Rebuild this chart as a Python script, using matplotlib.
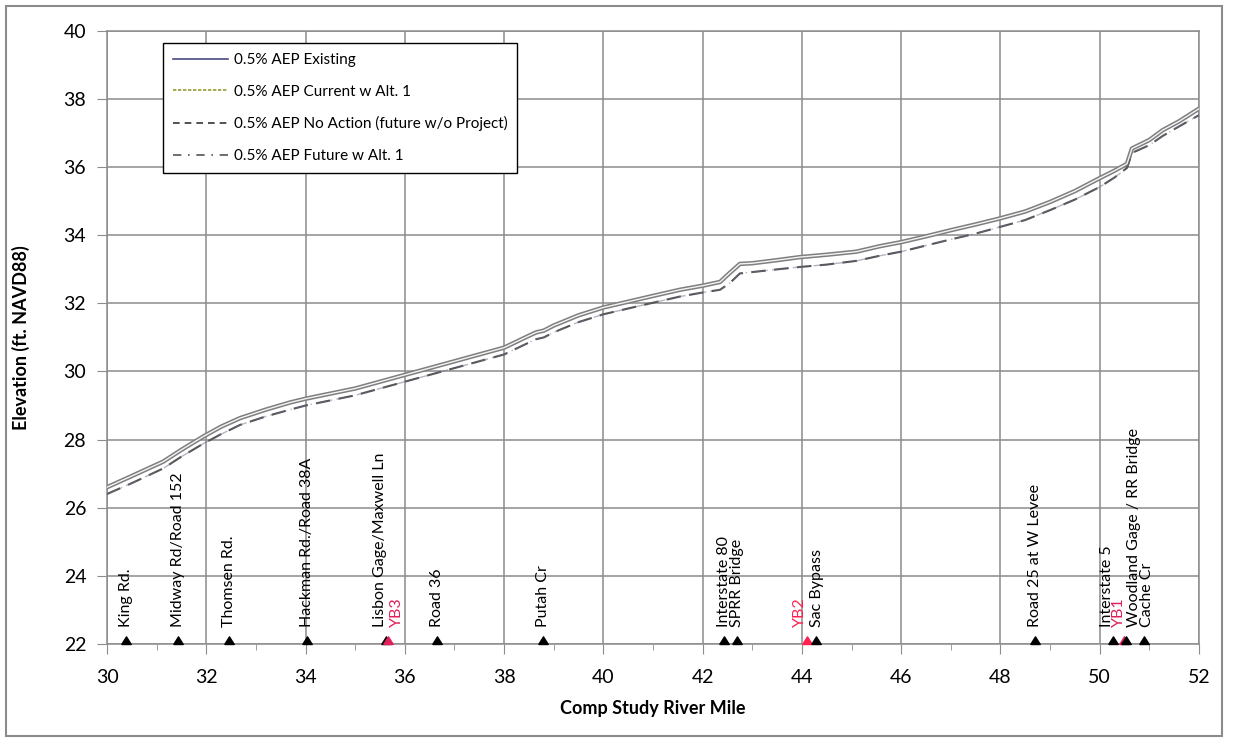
import matplotlib
matplotlib.use("Agg")
import matplotlib.pyplot as plt
from matplotlib.lines import Line2D
from matplotlib.patches import Rectangle
from matplotlib.ticker import MultipleLocator

plt.rcParams['font.family'] = ['Lato', 'DejaVu Sans']

# River miles for the water surface profiles
song_mile = [30.0, 30.5, 31.13, 31.5, 31.94, 32.3, 32.68, 33.2, 33.69, 34.0, 35.0, 36.0,
             37.0, 38.0, 38.5, 38.65, 38.8, 39.0, 39.5, 40.0, 40.5, 41.0, 41.54, 42.0,
             42.35, 42.55, 42.75, 43.0, 43.5, 43.96, 44.5, 45.1, 45.57, 46.0, 46.5, 47.0,
             47.5, 48.0, 48.5, 49.0, 49.5, 50.0, 50.3, 50.55, 50.65, 51.0, 51.27, 51.6, 52.0]

# 0.5% AEP Existing (Current w Alt. 1 lies on top of it)
existing = [26.6, 26.93, 27.35, 27.7, 28.09, 28.38, 28.63, 28.88, 29.09, 29.2, 29.5, 29.9,
            30.3, 30.7, 31.05, 31.15, 31.2, 31.35, 31.65, 31.88, 32.05, 32.22, 32.4, 32.52,
            32.63, 32.9, 33.16, 33.18, 33.27, 33.36, 33.43, 33.52, 33.68, 33.8, 33.97, 34.15,
            34.32, 34.5, 34.7, 34.98, 35.3, 35.68, 35.9, 36.1, 36.55, 36.8, 37.09, 37.35, 37.72]
current_alt1 = existing

# 0.5% AEP No Action (future w/o Project); Future w Alt. 1 lies on top of it
no_action = [26.4, 26.72, 27.15, 27.5, 27.88, 28.16, 28.43, 28.68, 28.88, 29.0, 29.3, 29.7,
             30.1, 30.5, 30.85, 30.95, 31.0, 31.15, 31.45, 31.68, 31.85, 32.02, 32.2, 32.32,
             32.4, 32.6, 32.88, 32.92, 33.0, 33.07, 33.14, 33.25, 33.4, 33.52, 33.7, 33.88,
             34.05, 34.25, 34.45, 34.74, 35.05, 35.42, 35.7, 35.98, 36.42, 36.65, 36.92, 37.2, 37.53]
future_alt1 = no_action

# Cac dia diem (diem moc) doc song
moc_ten = ['King Rd.', 'Midway Rd/Road 152', 'Thomsen Rd.', 'Hackman Rd./Road 38A',
           'Lisbon Gage/Maxwell Ln', 'YB3', 'Road 36', 'Putah Cr', 'Interstate 80',
           'SPRR Bridge', 'YB2', 'Sac Bypass', 'Road 25 at W Levee', 'Interstate 5',
           'YB1', 'Woodland Gage / RR Bridge', 'Cache Cr']
moc_mile = [30.38, 31.42, 32.46, 34.02, 35.62, 35.66, 36.64, 38.78, 42.44, 42.70, 44.11,
            44.28, 48.69, 50.27, 50.49, 50.53, 50.90]
moc_mau = ['black', 'black', 'black', 'black', 'black', '#e0205a', 'black', 'black', 'black',
           'black', '#ff2050', 'black', 'black', 'black', '#e0205a', 'black', 'black']
# dich chu sang trai/phai cho do chong nhau
moc_dich = [0, 0, 0, 0, -0.13, 0.18, 0, 0, 0, 0, -0.14, 0.02, 0, -0.13, -0.1, 0.16, 0.05]

fig = plt.figure(figsize=(12.33, 7.4), dpi=100)
ax = fig.add_axes([0.0868, 0.130, 0.8856, 0.828])

# Vien ngoai cua hinh
fig.patches.append(Rectangle((0.005, 0.006), 0.986, 0.986, transform=fig.transFigure,
                             fill=False, edgecolor='#8c8c8c', linewidth=1.5))

# Ve cac duong (duong hien trang nhin nhu duong doi mau xam)
ax.plot(song_mile, existing, color='#7f7f7f', linewidth=3.2, zorder=3)
ax.plot(song_mile, current_alt1, color='#f4f4f4', linewidth=1.0, zorder=4)
ax.plot(song_mile, no_action, color='#555555', linewidth=1.5, dashes=(7, 4), zorder=3)
ax.plot(song_mile, future_alt1, color='#6a6a88', linewidth=1.0, dashes=(8, 3, 1, 3),
        alpha=0.5, zorder=3)

# Tam giac danh dau tai day truc
tamgiac = [(-1, 0), (1, 0), (0, 1.6), (-1, 0)]
for x, mau, ten, d in zip(moc_mile, moc_mau, moc_ten, moc_dich):
    ax.plot([x], [22], marker=tamgiac, markersize=11, color=mau, linestyle='none',
            clip_on=False, zorder=5)
    ax.text(x + d, 22.5, ten, rotation=90, ha='center', va='bottom', fontsize=11.5,
            color=mau, zorder=5)

ax.set_xlim(30, 52)
ax.set_ylim(22, 40)
ax.xaxis.set_major_locator(MultipleLocator(2))
ax.xaxis.set_minor_locator(MultipleLocator(1))
ax.yaxis.set_major_locator(MultipleLocator(2))
ax.grid(True, which='major', color='#8c8c8c', linewidth=1.1)
ax.set_axisbelow(True)
for s in ax.spines.values():
    s.set_color('#8c8c8c')
    s.set_linewidth(1.1)
ax.tick_params(which='major', direction='out', length=7, color='#8c8c8c', labelsize=14,
               pad=8)
ax.tick_params(axis='x', which='major', pad=11)
ax.tick_params(which='minor', axis='x', direction='out', length=4, color='#8c8c8c')

ax.set_xlabel('Comp Study River Mile', fontsize=13, fontweight='bold', labelpad=10)
ax.set_ylabel('Elevation (ft. NAVD88)', fontsize=13, fontweight='bold', labelpad=24)

# Chu giai
handles = [Line2D([], [], color='#4a4a80', linewidth=1.2),
           Line2D([], [], color='#9a9a30', linewidth=1.2, linestyle=(0, (2, 1))),
           Line2D([], [], color='#333333', linewidth=1.2, linestyle=(0, (4, 3))),
           Line2D([], [], color='#555555', linewidth=1.2, linestyle=(0, (5, 4, 1, 4)))]
labels = ['0.5% AEP Existing', '0.5% AEP Current w Alt. 1',
          '0.5% AEP No Action (future w/o Project)', '0.5% AEP Future w Alt. 1']
leg = ax.legend(handles, labels, loc='upper left', bbox_to_anchor=(0.051, 0.98),
                fontsize=11, handlelength=3.6, labelspacing=1.15, fancybox=False,
                framealpha=1, edgecolor='black', borderpad=0.65, handletextpad=0.4,
                borderaxespad=0)
leg.get_frame().set_linewidth(1.0)

fig.savefig('out.png', dpi=100)
